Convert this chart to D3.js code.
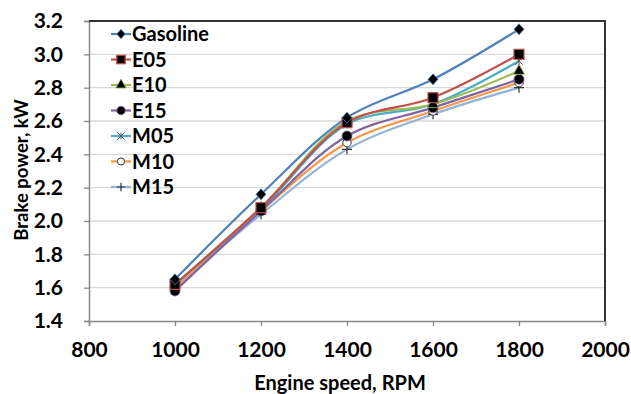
<!DOCTYPE html>
<html>
<head>
<meta charset="utf-8">
<script src="https://cdn.jsdelivr.net/npm/d3@7"></script>
<style>
  html, body { margin: 0; padding: 0; background: #fff; }
  svg { display: block; font-family: Lato, "Open Sans", sans-serif; }
</style>
</head>
<body>
<svg id="chart" width="631" height="394"></svg>
<script>
// Engine speeds (RPM)
const speeds = [1000, 1200, 1400, 1600, 1800];

// Brake power (kW) for each fuel blend
const fuels = ["Gasoline", "E05", "E10", "E15", "M05", "M10", "M15"];
const gasoline = [1.65, 2.16, 2.62, 2.85, 3.15];
const e05      = [1.62, 2.08, 2.59, 2.74, 3.00];
const e10      = [1.62, 2.08, 2.60, 2.70, 2.90];
const e15      = [1.58, 2.06, 2.51, 2.68, 2.85];
const m05      = [1.62, 2.07, 2.58, 2.70, 2.96];
const m10      = [1.59, 2.06, 2.47, 2.66, 2.83];
const m15      = [1.60, 2.04, 2.43, 2.64, 2.80];

const xTicks = [800, 1000, 1200, 1400, 1600, 1800, 2000];
const yTicks = [1.4, 1.6, 1.8, 2.0, 2.2, 2.4, 2.6, 2.8, 3.0, 3.2];

const seriesValues = [gasoline, e05, e10, e15, m05, m10, m15];
const lineColors = ["#4F81BD", "#C0504D", "#9BBB59", "#8064A2", "#4BACC6", "#F79646", "#95B3D7"];
const markerKinds = ["diamond", "square", "triangle", "circle", "star", "ring", "plus"];

const svg = d3.select("#chart");
const M = { left: 89, right: 605, top: 21, bottom: 321 };

const x = d3.scaleLinear().domain([800, 2000]).range([M.left, M.right]);
const y = d3.scaleLinear().domain([1.4, 3.2]).range([M.bottom, M.top]);

// Horizontal gridlines
svg.append("g")
  .selectAll("line")
  .data(yTicks.slice(1, -1))
  .join("line")
  .attr("x1", M.left).attr("x2", M.right)
  .attr("y1", d => y(d)).attr("y2", d => y(d))
  .attr("stroke", "#D9D9D9").attr("stroke-width", 1.3);

// Axes
const xAxis = svg.append("g")
  .attr("transform", `translate(0,${M.bottom})`)
  .call(d3.axisBottom(x).tickValues(xTicks).tickSize(5).tickPadding(16).tickFormat(d3.format("d")));
const yAxis = svg.append("g")
  .attr("transform", `translate(${M.left},0)`)
  .call(d3.axisLeft(y).tickValues(yTicks).tickSize(5).tickPadding(21).tickFormat(d3.format(".1f")));

[xAxis, yAxis].forEach(g => {
  g.select(".domain").attr("stroke", "#888").attr("stroke-width", 1.5);
  g.selectAll(".tick line").attr("stroke", "#888").attr("stroke-width", 1.3);
  g.selectAll(".tick text")
    .attr("fill", "#000")
    .style("font-size", "21px")
    .style("font-weight", "bold")
    .style("font-family", "Lato, 'Open Sans', sans-serif");
});

// Frame on top and right sides
svg.append("path")
  .attr("d", `M${M.left},${M.top}H${M.right}V${M.bottom}`)
  .attr("fill", "none").attr("stroke", "#333").attr("stroke-width", 2);

// Axis titles
svg.append("text")
  .attr("x", 340).attr("y", 390)
  .attr("text-anchor", "middle")
  .style("font-size", "20px").style("font-weight", "bold")
  .text("Engine speed, RPM");
svg.append("text")
  .attr("transform", `translate(28,170) rotate(-90)`)
  .attr("text-anchor", "middle")
  .style("font-size", "18.5px").style("font-weight", "bold")
  .text("Brake power, kW");

// Marker drawing
function drawMarker(g, kind, color, size) {
  const s = size || 1;
  switch (kind) {
    case "diamond":
      g.append("path").attr("d", `M0,${-5.5 * s}L${5 * s},0L0,${5.5 * s}L${-5 * s},0Z`)
        .attr("fill", "#000").attr("stroke", color).attr("stroke-width", 0.8);
      break;
    case "square":
      g.append("rect").attr("x", -5 * s).attr("y", -5 * s).attr("width", 10 * s).attr("height", 10 * s)
        .attr("fill", "#000").attr("stroke", color).attr("stroke-width", 1.2);
      break;
    case "triangle":
      g.append("path").attr("d", d3.symbol(d3.symbolTriangle, 55 * s)())
        .attr("fill", "#000").attr("stroke", color).attr("stroke-width", 0.8);
      break;
    case "circle":
      g.append("circle").attr("r", 5 * s)
        .attr("fill", "#000").attr("stroke", color).attr("stroke-width", 0.8);
      break;
    case "star":
      g.append("path").attr("d", d3.symbol(d3.symbolTimes, 40 * s)())
        .attr("fill", "none").attr("stroke", "#555").attr("stroke-width", 1);
      g.append("path").attr("d", `M0,${-4 * s}V${4 * s}`)
        .attr("stroke", "#555").attr("stroke-width", 1);
      break;
    case "ring":
      g.append("circle").attr("r", 4.2 * s)
        .attr("fill", "#fff").attr("stroke", "#333").attr("stroke-width", 1);
      break;
    case "plus":
      g.append("path").attr("d", `M${-5 * s},0H${5 * s}M0,${-5 * s}V${5 * s}`)
        .attr("stroke", "#333").attr("stroke-width", 1.2);
      break;
  }
}

// Smoothed series lines
const line = d3.line()
  .x(d => x(d.rpm))
  .y(d => y(d.kw))
  .curve(d3.curveCatmullRom.alpha(0.5));

const series = fuels.map((name, i) => ({
  name,
  color: lineColors[i],
  kind: markerKinds[i],
  points: speeds.map((rpm, j) => ({ rpm, kw: seriesValues[i][j] }))
}));

// Draw lines back-to-front so Gasoline sits on top
series.slice().reverse().forEach(s => {
  svg.append("path")
    .datum(s.points)
    .attr("d", line)
    .attr("fill", "none")
    .attr("stroke", s.color)
    .attr("stroke-width", 2.2);
});
series.slice().reverse().forEach(s => {
  s.points.forEach(p => {
    const g = svg.append("g").attr("transform", `translate(${x(p.rpm)},${y(p.kw)})`);
    drawMarker(g, s.kind, s.color, 1);
  });
});

// Legend
const legend = svg.append("g");
series.forEach((s, i) => {
  const ly = 34 + i * 25.5;
  const row = legend.append("g").attr("transform", `translate(0,${ly})`);
  row.append("line").attr("x1", 111).attr("x2", 131).attr("y1", 0).attr("y2", 0)
    .attr("stroke", s.color).attr("stroke-width", 2.2);
  drawMarker(row.append("g").attr("transform", "translate(121,0)"), s.kind, s.color, 0.85);
  row.append("text").attr("x", 132).attr("y", 0).attr("dy", "0.36em")
    .style("font-size", "20px").style("font-weight", "bold")
    .text(s.name);
});
</script>
</body>
</html>
